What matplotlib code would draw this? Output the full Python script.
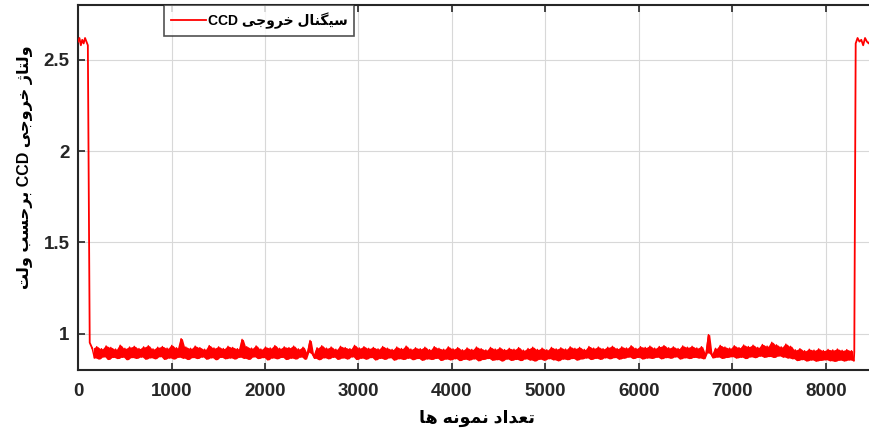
import numpy as np
import matplotlib
matplotlib.use("Agg")
import matplotlib.pyplot as plt

# ---------------- data ----------------
legend_label = "سیگنال خروجی CCD"
x_label = "تعداد نمونه ها"
y_label = "ولتاژ خروجی CCD برحسب ولت"

x_ticks = [0, 1000, 2000, 3000, 4000, 5000, 6000, 7000, 8000]
y_ticks = [1, 1.5, 2, 2.5]

# sample indices / volts of each signal segment
left_high_x = [0, 15, 30, 45, 60, 75, 90, 105, 125]
left_high_y = [2.60, 2.62, 2.58, 2.61, 2.59, 2.62, 2.60, 2.58, 0.95]

floor_start, floor_end = 150, 8300
floor_y = [
    0.921, 0.866, 0.928, 0.861, 0.917, 0.872, 0.932, 0.858, 0.924, 0.869, 0.915, 0.863, 0.936, 0.870, 0.919, 0.857, 0.926, 0.868, 0.930, 0.864,
    0.918, 0.871, 0.927, 0.860, 0.933, 0.867, 0.916, 0.862, 0.925, 0.873, 0.929, 0.859, 0.920, 0.866, 0.935, 0.861, 0.922, 0.870, 0.972, 0.865,
    0.926, 0.858, 0.919, 0.868, 0.931, 0.863, 0.923, 0.871, 0.914, 0.860, 0.934, 0.867, 0.921, 0.857, 0.927, 0.869, 0.918, 0.862, 0.930, 0.866,
    0.924, 0.861, 0.917, 0.870, 0.968, 0.864, 0.928, 0.859, 0.920, 0.872, 0.932, 0.863, 0.915, 0.868, 0.926, 0.856, 0.921, 0.866, 0.934, 0.862,
    0.919, 0.869, 0.927, 0.858, 0.923, 0.865, 0.931, 0.861, 0.916, 0.871, 0.925, 0.860, 0.898, 0.962, 0.889, 0.864, 0.922, 0.857, 0.933, 0.867,
    0.920, 0.862, 0.926, 0.870, 0.914, 0.859, 0.930, 0.866, 0.923, 0.861, 0.917, 0.872, 0.935, 0.858, 0.921, 0.865, 0.928, 0.860, 0.919, 0.868,
    0.924, 0.856, 0.916, 0.864, 0.929, 0.859, 0.920, 0.867, 0.913, 0.855, 0.926, 0.862, 0.918, 0.858, 0.931, 0.865, 0.915, 0.857, 0.922, 0.863,
    0.917, 0.854, 0.925, 0.861, 0.912, 0.858, 0.928, 0.864, 0.919, 0.853, 0.914, 0.860, 0.927, 0.856, 0.916, 0.862, 0.923, 0.852, 0.911, 0.859,
    0.921, 0.855, 0.913, 0.861, 0.926, 0.851, 0.917, 0.858, 0.910, 0.863, 0.924, 0.854, 0.915, 0.857, 0.922, 0.850, 0.912, 0.860, 0.919, 0.853,
    0.914, 0.858, 0.923, 0.852, 0.909, 0.861, 0.918, 0.855, 0.925, 0.850, 0.913, 0.859, 0.920, 0.854, 0.911, 0.862, 0.924, 0.856, 0.916, 0.851,
    0.922, 0.860, 0.915, 0.857, 0.927, 0.863, 0.919, 0.855, 0.924, 0.861, 0.913, 0.866, 0.929, 0.858, 0.920, 0.864, 0.926, 0.859, 0.917, 0.867,
    0.925, 0.862, 0.930, 0.868, 0.918, 0.860, 0.927, 0.865, 0.921, 0.871, 0.933, 0.863, 0.919, 0.869, 0.928, 0.861, 0.924, 0.866, 0.931, 0.864,
    0.920, 0.870, 0.929, 0.862, 0.934, 0.868, 0.922, 0.865, 0.927, 0.872, 0.918, 0.861, 0.932, 0.867, 0.925, 0.863, 0.930, 0.869, 0.921, 0.866,
    0.928, 0.862, 0.894, 0.994, 0.891, 0.867, 0.919, 0.871, 0.935, 0.864, 0.926, 0.869, 0.920, 0.873, 0.933, 0.866, 0.923, 0.870, 0.937, 0.863,
    0.929, 0.872, 0.936, 0.868, 0.924, 0.876, 0.940, 0.870, 0.931, 0.874, 0.952, 0.869, 0.938, 0.877, 0.927, 0.871, 0.942, 0.866, 0.930, 0.862,
    0.911, 0.852, 0.917, 0.857, 0.906, 0.850, 0.914, 0.855, 0.909, 0.849, 0.916, 0.853, 0.907, 0.856, 0.913, 0.851, 0.910, 0.848, 0.915, 0.854,
    0.908, 0.850, 0.912, 0.855, 0.906, 0.852,
]

right_high_x = [8305, 8320, 8340, 8360, 8380, 8400, 8420, 8440, 8460, 8480, 8500, 8520, 8540, 8560, 8580, 8600]
right_high_y = [0.90, 2.59, 2.62, 2.60, 2.61, 2.58, 2.62, 2.60, 2.59, 2.61, 2.60, 2.62, 2.59, 2.61, 2.60, 2.62]

# ---------------- minimal Arabic/Persian shaping ----------------
# letter: (isolated, final, initial, medial); None => does not join to next
FORMS = {
    "\u0627": ("\uFE8D", "\uFE8E", None, None),
    "\u0628": ("\uFE8F", "\uFE90", "\uFE91", "\uFE92"),
    "\u062A": ("\uFE95", "\uFE96", "\uFE97", "\uFE98"),
    "\u062C": ("\uFE9D", "\uFE9E", "\uFE9F", "\uFEA0"),
    "\u062D": ("\uFEA1", "\uFEA2", "\uFEA3", "\uFEA4"),
    "\u062E": ("\uFEA5", "\uFEA6", "\uFEA7", "\uFEA8"),
    "\u062F": ("\uFEA9", "\uFEAA", None, None),
    "\u0631": ("\uFEAD", "\uFEAE", None, None),
    "\u0698": ("\uFB8A", "\uFB8B", None, None),
    "\u0633": ("\uFEB1", "\uFEB2", "\uFEB3", "\uFEB4"),
    "\u0639": ("\uFEC9", "\uFECA", "\uFECB", "\uFECC"),
    "\u06AF": ("\uFB92", "\uFB93", "\uFB94", "\uFB95"),
    "\u0644": ("\uFEDD", "\uFEDE", "\uFEDF", "\uFEE0"),
    "\u0645": ("\uFEE1", "\uFEE2", "\uFEE3", "\uFEE4"),
    "\u0646": ("\uFEE5", "\uFEE6", "\uFEE7", "\uFEE8"),
    "\u0647": ("\uFEE9", "\uFEEA", "\uFEEB", "\uFEEC"),
    "\u0648": ("\uFEED", "\uFEEE", None, None),
    "\u06CC": ("\uFBFC", "\uFBFD", "\uFBFE", "\uFBFF"),
}


def shape_word(word):
    out = []
    for i, ch in enumerate(word):
        if ch not in FORMS:
            out.append(ch)
            continue
        prev = word[i - 1] if i > 0 else None
        nxt = word[i + 1] if i + 1 < len(word) else None
        jp = prev in FORMS and FORMS[prev][2] is not None
        jn = FORMS[ch][2] is not None and nxt in FORMS
        iso, fin, ini, med = FORMS[ch]
        if jp and jn:
            out.append(med)
        elif jp:
            out.append(fin)
        elif jn:
            out.append(ini)
        else:
            out.append(iso)
    return "".join(out)


def rtl(text):
    words = text.split(" ")
    vis = []
    for w in reversed(words):
        if any(c in FORMS for c in w):
            vis.append(shape_word(w)[::-1])
        else:
            vis.append(w)
    return " ".join(vis)


# ---------------- plot ----------------
plt.rcParams["font.family"] = ["Liberation Sans", "DejaVu Sans"]
plt.rcParams["font.weight"] = "bold"
plt.rcParams["path.simplify"] = False

fig = plt.figure(figsize=(8.69, 4.29), dpi=100)
ax = fig.add_axes([0.0898, 0.1375, 0.925, 0.8505])

RED = "#ff0000"
floor_x = np.asarray(np.linspace(floor_start, floor_end, len(floor_y)))
fy = np.asarray(floor_y)
# region swept by the zig-zag between neighbouring samples -> solid band
seg_x = (floor_x[:-1] + floor_x[1:]) / 2
seg_lo = np.minimum(fy[:-1], fy[1:])
seg_hi = np.maximum(fy[:-1], fy[1:])
ax.fill_between(seg_x, seg_lo, seg_hi, color=RED, lw=0, zorder=3)
ax.plot(floor_x, fy, color=RED, lw=1.0, zorder=3)
ax.plot(np.concatenate([left_high_x, [floor_x[0]]]),
        np.concatenate([left_high_y, [fy[0]]]), color=RED, lw=1.3, zorder=3)
ax.plot(np.concatenate([[floor_x[-1]], right_high_x]),
        np.concatenate([[fy[-1]], right_high_y]), color=RED, lw=1.3, zorder=3)
ax.plot([], [], color=RED, lw=1.3, label=rtl(legend_label))

ax.set_xlim(0, 8600)
ax.set_ylim(0.8, 2.8)
ax.set_xticks(x_ticks)
ax.set_yticks(y_ticks)
ax.set_xticklabels([str(t) for t in x_ticks])
ax.set_yticklabels([f"{t:g}" for t in y_ticks])

ax.grid(True, color="#d8d8d8", lw=0.8)
ax.set_axisbelow(True)
ax.tick_params(direction="in", length=5, width=1.2, top=True, right=True,
               labelsize=13.5, colors="#262626")
ax.tick_params(axis="x", pad=9)
ax.tick_params(axis="y", pad=6)
for s in ax.spines.values():
    s.set_color("#262626")
    s.set_linewidth(1.5)

ax.set_xlabel(rtl(x_label), fontsize=12.5, fontweight="bold")
ax.set_ylabel(rtl(y_label), fontsize=11.5, fontweight="bold")
ax.xaxis.set_label_coords(0.496, -0.108)
ax.yaxis.set_label_coords(-0.056, 0.556)

leg = ax.legend(loc="upper left", bbox_to_anchor=(0.107, 1.0), fontsize=10,
                frameon=True, fancybox=False, borderpad=0.5, handlelength=2.5,
                handletextpad=0.15, borderaxespad=0)
leg.get_frame().set_edgecolor("#262626")
leg.get_frame().set_linewidth(1.2)
for t in leg.get_texts():
    t.set_fontweight("bold")

fig.savefig("out.png", dpi=100)
